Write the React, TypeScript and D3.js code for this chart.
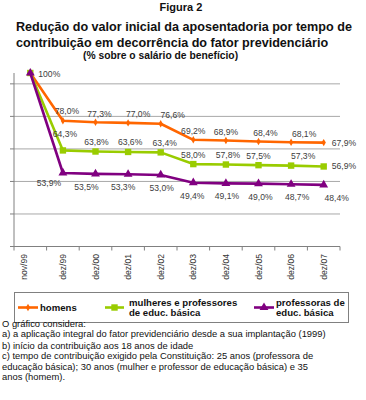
import React from "react";
import * as d3 from "d3";

// data
const categories = ["nov/99", "dez/99", "dez/00", "dez/01", "dez/02", "dez/03", "dez/04", "dez/05", "dez/06", "dez/07"];
const homens = [100, 78.0, 77.3, 77.0, 76.6, 69.2, 68.9, 68.4, 68.1, 67.9];
const mulheres = [100, 64.3, 63.8, 63.6, 63.4, 58.0, 57.8, 57.5, 57.3, 56.9];
const professoras = [100, 53.9, 53.5, 53.3, 53.0, 49.4, 49.1, 49.0, 48.7, 48.4];
const yTicks = [20, 35, 50, 65, 80, 95];

const titleLines = [
  "Redução do valor inicial da aposentadoria por tempo de",
  "contribuição em decorrência do fator previdenciário",
];
const notes = [
  "O gráfico considera:",
  "a) a aplicação integral do fator previdenciário desde a sua implantação (1999)",
  "b) início da contribuição aos 18 anos de idade",
  "c) tempo de contribuição exigido pela Constituição: 25 anos (professora de",
  "educação básica); 30 anos (mulher e professor de educação básica) e 35",
  "anos (homem).",
];

const fmt = (v: number) => (v === 100 ? "100%" : v.toFixed(1).replace(".", ",") + "%");

const App = () => {
  const width = 366;
  const height = 400;
  const plot = { left: 14, right: 340, top: 73, bottom: 246.5 };

  const x = d3.scalePoint<string>().domain(categories).range([plot.left, plot.right]).padding(0.5);
  const y = d3.scaleLinear().domain([20, 100]).range([plot.bottom, plot.top]);
  const step = x.step();

  const line = d3
    .line<number>()
    .x((_, i) => x(categories[i]) as number)
    .y((d) => y(d));

  const series = [
    { name: "homens", values: homens, color: "#FF6600", marker: "diamond", labelDy: -5.5, labelDx: [0, 4, 4, 10, 12, 0, 0, 7, 13, 0], last: "right" },
    { name: "mulheres", values: mulheres, color: "#99CC00", marker: "square", labelDy: -6.5, labelDx: [0, 2, 1, 2, 4, 0, 2, 0, 12, 0], last: "right" },
    { name: "professoras", values: professoras, color: "#800080", marker: "triangle", labelDy: 16, labelDx: [0, -14, -9, -5, 1, -1, 1, 2, 6, 13], last: "below" },
  ];

  const marker = (type: string, cx: number, cy: number, color: string, key: any) => {
    if (type === "square") return <rect key={key} x={cx - 3.2} y={cy - 3.2} width={6.4} height={6.4} fill={color} />;
    if (type === "triangle") {
      const p = d3.symbol(d3.symbolTriangle, 34)();
      return <path key={key} d={p as string} transform={`translate(${cx},${cy})`} fill={color} />;
    }
    const p = d3.symbol(d3.symbolDiamond, 16)();
    return <path key={key} d={p as string} transform={`translate(${cx},${cy})`} fill={color} />;
  };

  const labelFont = "Liberation Sans, Arial, sans-serif";
  const noteY = [326.5, 337, 348.5, 359, 369.5, 380];

  return (
    <svg width={width} height={height} style={{ position: "absolute", left: 0, top: 0, background: "#fff" }}>
      {/* titles */}
      <text x={181} y={11} textAnchor="middle" fontFamily={labelFont} fontWeight="bold" fontSize={11} fill="#111">Figura 2</text>
      {titleLines.map((t, i) => (
        <text key={t} x={16} y={30.5 + i * 16.5} fontFamily={labelFont} fontWeight="bold" fontSize={12.6} fill="#111">{t}</text>
      ))}
      <text x={83} y={59} fontFamily={labelFont} fontWeight="bold" fontSize={10.3} fill="#111">(% sobre o salário de benefício)</text>

      {/* grid */}
      {yTicks.slice(1).map((t) => (
        <line key={t} x1={plot.left} x2={plot.right} y1={y(t)} y2={y(t)} stroke="#a8a8a8" strokeWidth={1} />
      ))}
      {/* y axis */}
      <line x1={plot.left} x2={plot.left} y1={plot.top} y2={plot.bottom} stroke="#808080" />
      {yTicks.map((t) => (
        <line key={"yt" + t} x1={plot.left - 4} x2={plot.left} y1={y(t)} y2={y(t)} stroke="#808080" />
      ))}
      {/* x axis */}
      <line x1={plot.left} x2={plot.right} y1={plot.bottom} y2={plot.bottom} stroke="#808080" />
      {d3.range(categories.length + 1).map((i) => (
        <line key={"xt" + i} x1={plot.left + i * step} x2={plot.left + i * step} y1={plot.bottom} y2={plot.bottom + 4} stroke="#808080" />
      ))}
      {categories.map((c, i) => (
        <text
          key={c}
          transform={`translate(${(x(c) as number) + 3 - (i === 0 ? 6 : 0)},${plot.bottom + 7.5}) rotate(-90)`}
          textAnchor="end"
          fontFamily={labelFont}
          fontSize={8.6}
          fill="#333"
        >
          {c}
        </text>
      ))}

      {/* series */}
      {series.map((s) => (
        <g key={s.name}>
          <path d={line(s.values) as string} fill="none" stroke={s.color} strokeWidth={2.6} strokeLinejoin="round" />
          {s.values.map((v, i) => marker(s.marker, x(categories[i]) as number, y(v), s.color, i))}
        </g>
      ))}

      {/* data labels */}
      <text x={(x(categories[0]) as number) + 8} y={y(100) + 4} fontFamily={labelFont} fontSize={8.6} fill="#404040">100%</text>
      {series.map((s) =>
        s.values.map((v, i) => {
          if (i === 0) return null;
          const px = x(categories[i]) as number;
          const py = y(v);
          const isLast = i === s.values.length - 1;
          if (isLast && s.last === "right") {
            return (
              <text key={s.name + i} x={px + 8} y={py + 3} fontFamily={labelFont} fontSize={8.6} fill="#404040">{fmt(v)}</text>
            );
          }
          let dy = s.labelDy;
          if (i === 1 && s.name === "homens") dy = -7;
          if (i === 1 && s.name === "mulheres") dy = -13;
          if (i === 1 && s.name === "professoras") dy = 13;
          return (
            <text key={s.name + i} x={px + s.labelDx[i]} y={py + dy} textAnchor="middle" fontFamily={labelFont} fontSize={8.6} fill="#404040">
              {fmt(v)}
            </text>
          );
        })
      )}

      {/* legend */}
      <rect x={14.5} y={292.5} width={334} height={30} fill="#fff" stroke="#808080" />
      <line x1={18} x2={38} y1={307.5} y2={307.5} stroke="#FF6600" strokeWidth={2.6} />
      {marker("diamond", 28, 307.5, "#FF6600", "lm1")}
      <text x={40} y={311} fontFamily={labelFont} fontWeight="bold" fontSize={9.6} fill="#111">homens</text>
      <line x1={105} x2={124} y1={307.5} y2={307.5} stroke="#99CC00" strokeWidth={2.6} />
      {marker("square", 114.5, 307.5, "#99CC00", "lm2")}
      <text x={129} y={305.5} fontFamily={labelFont} fontWeight="bold" fontSize={9.6} fill="#111">mulheres e professores</text>
      <text x={129} y={315.5} fontFamily={labelFont} fontWeight="bold" fontSize={9.6} fill="#111">de educ. básica</text>
      <line x1={254} x2={274} y1={307.5} y2={307.5} stroke="#800080" strokeWidth={2.6} />
      {marker("triangle", 264, 307.5, "#800080", "lm3")}
      <text x={276} y={305.5} fontFamily={labelFont} fontWeight="bold" fontSize={9.6} fill="#111">professoras de</text>
      <text x={276} y={315.5} fontFamily={labelFont} fontWeight="bold" fontSize={9.6} fill="#111">educ. básica</text>

      {/* notes */}
      {notes.map((n, i) => (
        <text key={i} x={2} y={noteY[i]} fontFamily={labelFont} fontSize={9.4} fill="#111">{n}</text>
      ))}
    </svg>
  );
};

export default App;
